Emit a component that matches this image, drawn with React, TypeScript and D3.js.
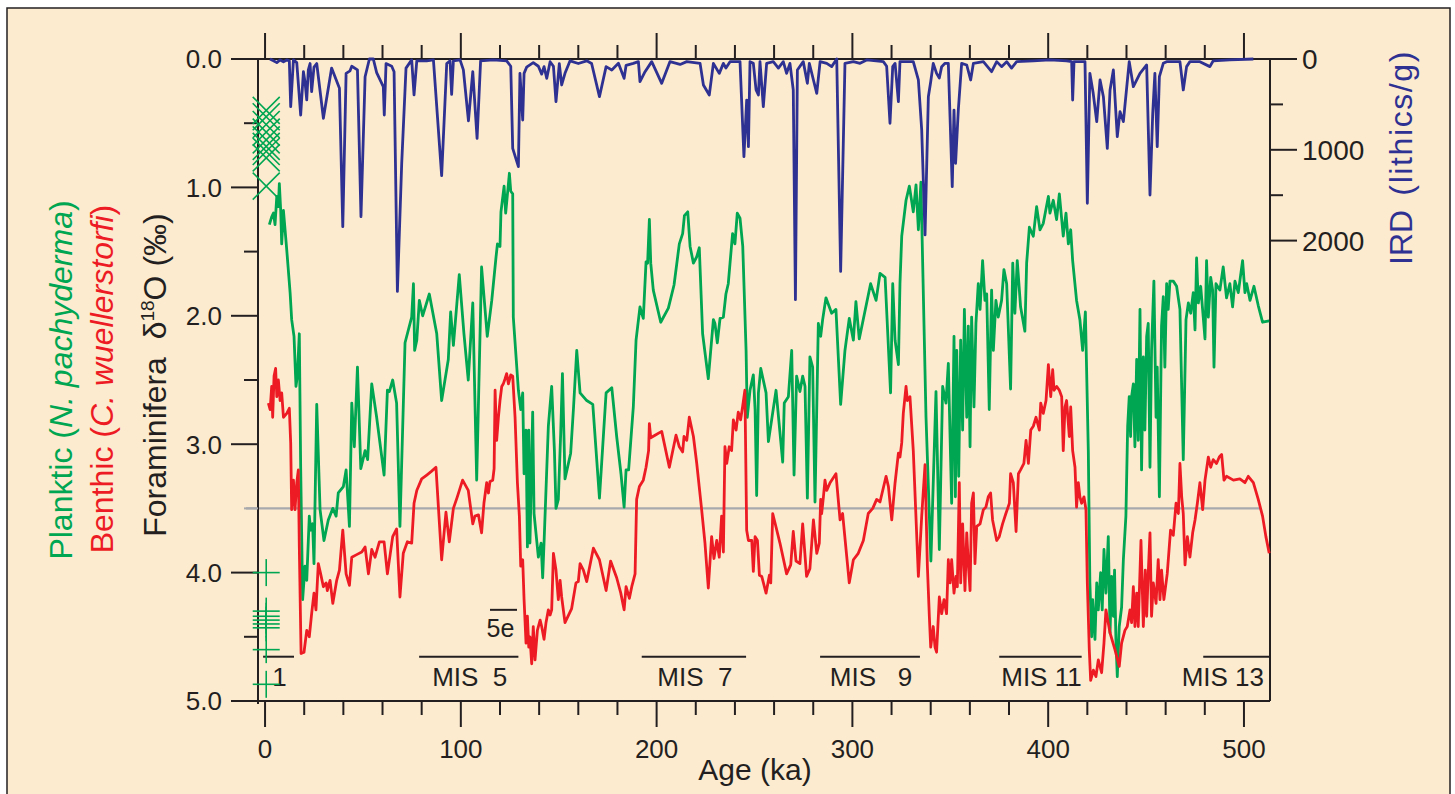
import React, { useEffect, useRef } from 'react';
import * as d3 from 'd3';

// ---- data ----
// IRD flux, [age ka, lithics/g]
const irdSeries: [number, number][] = [
  [2.5, 0], [4.3, 20], [6.0, 40], [7.7, 10], [9.4, 30], [11.1, 10], [12.4, 20], [13.1, 525], [14.5, 10], [16.2, 40],
  [18.2, 617], [19.6, 140], [20.4, 250], [21.3, 451], [22.1, 120], [23.0, 50], [23.8, 360], [25.0, 90], [26.4, 50],
  [29.8, 653], [34.0, 100], [38.0, 323], [39.7, 1847], [41.4, 158], [43.4, 130], [44.3, 80], [47.2, 120], [49.0, 1736],
  [51.1, 195], [53.3, 0], [55.3, 0], [57.0, 150], [60.4, 305], [60.9, 617], [61.8, 50], [64.7, 80], [65.9, 140],
  [67.6, 2560], [69.8, 1150], [72.0, 100], [74.9, 10], [76.1, 396], [77.5, 20], [82.6, 20], [86.0, 10], [90.2, 1285],
  [92.8, 50], [94.5, 20], [95.3, 390], [96.2, 20], [99.6, 10], [101.3, 120], [103.9, 680], [106.1, 140], [108.3, 874],
  [110.1, 20], [116.6, 10], [123.4, 20], [125.5, 80], [126.5, 984], [129.4, 1186], [130.2, 158], [131.6, 672],
  [132.3, 158], [133.6, 90], [137.0, 40], [139.6, 80], [141.3, 167], [142.5, 84], [143.9, 213], [145.6, 30], [147.3, 80],
  [148.6, 470], [150.3, 50], [151.5, 286], [153.2, 158], [155.8, 20], [160.0, 50], [164.3, 20], [166.8, 50], [170.8, 415],
  [174.2, 84], [177.1, 121], [180.5, 48], [183.4, 213], [184.4, 70], [188.1, 48], [190.7, 29], [191.5, 250], [194.1, 140],
  [197.5, 29], [202.6, 268], [206.8, 29], [212.0, 60], [215.4, 29], [222.2, 48], [223.9, 286], [226.9, 396], [229.0, 48],
  [232.0, 158], [234.1, 48], [235.4, 100], [237.5, 29], [242.6, 29], [244.6, 1076], [246.0, 452], [246.9, 966], [247.7, 29],
  [249.4, 48], [250.8, 341], [252.0, 396], [252.8, 29], [254.5, 525], [256.2, 48], [259.6, 29], [262.2, 100], [264.7, 29],
  [266.4, 158], [268.1, 48], [269.8, 341], [270.9, 2650], [271.9, 121], [274.9, 29], [277.0, 268], [278.0, 48], [280.1, 231],
  [281.8, 378], [283.5, 29], [286.9, 48], [289.4, 84], [292.0, 0], [294.0, 2340], [296.2, 48], [300.5, 29], [303.9, 48],
  [307.3, 10], [315.8, 29], [317.5, 80], [319.2, 708], [320.6, 84], [321.8, 48], [323.5, 470], [324.3, 29], [331.1, 29],
  [333.7, 231], [335.4, 782], [337.1, 1938], [338.8, 415], [340.0, 250], [341.3, 48], [343.0, 158], [344.4, 210],
  [345.6, 84], [347.3, 48], [349.0, 48], [351.0, 1406], [351.9, 562], [352.7, 1149], [354.1, 562], [355.8, 48], [358.4, 66],
  [360.4, 231], [361.8, 48], [366.9, 29], [371.1, 140], [373.7, 29], [376.2, 84], [378.8, 29], [381.3, 100], [383.9, 29],
  [392.4, 20], [400.9, 10], [409.4, 20], [412.0, 29], [412.5, 452], [413.2, 29], [418.8, 29], [420.0, 1589], [421.3, 158],
  [423.0, 378], [424.8, 690], [426.5, 231], [428.2, 415], [430.2, 984], [431.6, 341], [433.3, 121], [435.3, 855],
  [436.7, 580], [438.4, 690], [441.4, 29], [443.5, 305], [446.9, 158], [450.3, 66], [452.0, 1498], [453.4, 598],
  [454.5, 158], [455.7, 966], [456.8, 194], [458.8, 48], [460.5, 29], [467.3, 29], [469.0, 341], [470.7, 84], [472.4, 29],
  [477.5, 29], [482.6, 84], [484.3, 20], [492.8, 10], [504.8, 0],
];

// planktic N. pachyderma d18O, [age ka, permil]
const plankticSeries: [number, number][] = [
  [2.2, 1.29], [3.4, 1.23], [4.3, 1.2], [5.1, 1.29], [6.0, 1.07], [6.8, 1.15], [7.3, 0.97], [8.0, 1.18], [8.5, 1.44],
  [9.4, 1.18], [11.1, 1.49], [12.8, 1.82], [13.6, 2.03], [14.8, 2.16], [15.8, 2.55], [16.5, 2.47], [17.5, 2.14], [18.2, 3.18],
  [19.2, 4.21], [20.4, 3.95], [21.3, 4.06], [22.6, 3.56], [23.3, 3.67], [24.3, 3.62], [25.0, 3.93], [26.4, 2.69], [28.1, 3.51],
  [30.1, 3.75], [32.3, 3.59], [34.6, 3.5], [36.3, 3.56], [37.4, 3.38], [40.0, 3.33], [41.4, 3.2], [43.1, 3.64], [44.3, 2.68],
  [45.6, 3.02], [47.2, 2.4], [48.9, 3.19], [51.1, 3.05], [52.4, 3.12], [54.5, 2.53], [57.0, 2.79], [60.8, 3.24], [62.5, 2.58],
  [63.5, 2.59], [65.2, 2.5], [67.2, 2.68], [68.9, 3.64], [71.5, 2.21], [74.9, 2.01], [75.8, 1.75], [76.4, 2.27], [77.5, 2.19],
  [78.8, 1.88], [80.5, 2.0], [83.9, 1.83], [87.7, 2.14], [90.2, 2.66], [93.6, 2.34], [94.8, 1.97], [96.2, 2.23], [99.2, 1.68],
  [101.6, 2.14], [103.8, 2.5], [106.1, 1.9], [108.1, 3.28], [110.6, 1.62], [113.5, 2.16], [115.8, 1.88], [118.0, 1.54],
  [118.7, 1.44], [120.0, 1.46], [120.5, 1.19], [122.1, 0.99], [122.9, 1.2], [123.4, 1.12], [124.8, 0.89], [125.5, 1.03],
  [126.5, 1.05], [126.8, 2.01], [129.4, 2.58], [130.6, 2.73], [131.6, 2.6], [132.3, 3.23], [133.3, 2.89], [134.0, 3.8],
  [134.7, 2.89], [135.3, 3.77], [136.7, 2.75], [137.4, 3.54], [139.6, 3.88], [141.0, 3.77], [141.8, 4.04], [142.5, 3.77],
  [144.7, 2.86], [146.4, 2.55], [147.8, 3.05], [148.6, 3.5], [149.8, 3.43], [151.0, 2.92], [151.9, 2.45], [153.2, 3.27],
  [156.1, 3.07], [157.5, 2.73], [159.2, 2.27], [160.9, 2.6], [164.3, 2.66], [167.4, 2.69], [170.8, 3.42], [174.2, 2.6],
  [177.1, 2.56], [179.6, 2.94], [181.8, 3.23], [183.4, 3.49], [184.4, 3.2], [185.7, 3.2], [188.1, 2.71], [189.5, 2.19],
  [191.5, 1.93], [192.4, 1.98], [193.2, 2.02], [194.6, 1.58], [195.4, 1.59], [196.3, 1.25], [197.0, 1.59], [198.3, 1.8],
  [202.1, 2.05], [206.0, 1.94], [208.9, 1.76], [211.6, 1.44], [213.3, 1.36], [214.2, 1.22], [215.9, 1.19], [217.1, 1.46],
  [218.8, 1.59], [220.5, 1.54], [221.8, 1.47], [223.5, 2.14], [226.4, 2.49], [229.0, 2.03], [229.8, 2.06], [231.0, 2.21],
  [232.4, 2.02], [234.1, 2.01], [235.4, 1.83], [236.6, 1.75], [237.5, 1.59], [238.8, 1.36], [240.0, 1.44], [241.2, 1.2],
  [242.6, 1.24], [244.0, 1.46], [245.7, 2.27], [246.3, 2.79], [247.7, 2.58], [249.4, 2.46], [250.3, 2.73], [251.1, 3.4],
  [252.0, 2.6], [253.2, 2.41], [255.9, 2.6], [257.1, 2.98], [261.0, 2.58], [264.4, 3.14], [265.2, 2.68], [267.3, 2.63],
  [269.0, 2.27], [270.2, 3.24], [271.5, 2.47], [273.2, 2.59], [274.6, 2.47], [275.8, 2.55], [277.0, 3.42], [278.3, 2.32],
  [279.7, 2.4], [280.9, 3.45], [282.6, 2.06], [283.8, 2.16], [284.8, 2.03], [286.5, 1.86], [289.4, 1.98], [291.6, 1.95],
  [294.0, 2.69], [296.2, 2.27], [298.4, 2.02], [300.5, 2.19], [301.8, 1.89], [303.5, 2.18], [309.3, 1.75], [312.1, 1.88],
  [314.1, 1.67], [316.7, 1.7], [319.5, 2.6], [320.6, 1.75], [321.8, 2.19], [323.5, 2.38], [324.3, 1.75], [325.2, 1.38],
  [327.4, 1.1], [329.1, 0.99], [331.1, 1.19], [332.5, 0.98], [333.7, 1.33], [335.0, 0.96], [337.6, 2.79], [340.1, 3.91],
  [342.7, 2.59], [344.4, 3.82], [346.1, 2.55], [347.8, 2.68], [349.0, 2.37], [350.7, 3.46], [351.9, 2.16], [352.6, 3.41],
  [353.3, 2.27], [354.3, 3.25], [355.3, 2.19], [356.3, 2.89], [357.2, 1.95], [358.4, 2.79], [359.2, 2.08], [360.1, 3.02],
  [360.9, 2.01], [362.1, 2.71], [363.1, 2.06], [364.3, 1.75], [365.2, 1.95], [366.5, 1.57], [367.7, 1.88], [368.6, 1.83],
  [369.9, 2.73], [371.1, 1.8], [372.0, 2.27], [373.3, 1.88], [374.5, 2.01], [376.2, 1.88], [377.4, 1.64], [378.8, 1.75],
  [380.8, 2.57], [381.9, 1.59], [383.0, 1.98], [384.2, 1.57], [385.9, 1.93], [388.1, 2.12], [389.0, 1.59], [390.4, 1.31],
  [392.4, 1.38], [394.1, 1.15], [395.8, 1.33], [397.5, 1.28], [400.1, 1.07], [400.9, 1.2], [402.6, 1.1], [404.3, 1.25],
  [405.7, 1.05], [407.7, 1.38], [409.1, 1.2], [410.3, 1.44], [411.5, 1.33], [412.5, 1.57], [414.5, 1.88], [416.2, 2.03],
  [417.6, 2.27], [419.0, 1.97], [419.6, 2.4], [420.5, 3.05], [421.3, 4.08], [422.2, 4.5], [422.7, 4.21], [423.9, 4.52],
  [424.8, 4.08], [425.6, 4.29], [426.8, 4.0], [427.6, 4.29], [428.5, 3.82], [429.5, 4.16], [430.7, 3.72], [431.6, 4.47],
  [432.4, 4.03], [433.3, 4.34], [433.9, 3.98], [434.6, 4.52], [435.3, 4.81], [436.3, 4.42], [437.5, 4.27], [438.4, 3.9],
  [439.7, 3.56], [440.6, 2.86], [441.4, 2.63], [442.1, 2.94], [442.6, 2.63], [443.5, 2.53], [444.3, 3.02], [445.2, 2.34],
  [446.0, 2.97], [446.9, 1.95], [447.7, 3.2], [448.6, 2.32], [449.4, 2.89], [450.3, 2.16], [451.1, 2.06], [452.0, 3.18],
  [452.8, 2.27], [454.0, 1.73], [455.1, 2.79], [455.7, 2.4], [456.8, 3.41], [457.9, 2.08], [458.8, 1.85], [459.6, 2.4],
  [460.5, 1.75], [461.3, 1.95], [462.2, 1.73], [463.9, 1.73], [465.6, 1.77], [467.3, 1.95], [469.0, 3.12], [470.4, 2.03],
  [471.6, 1.9], [472.8, 1.98], [474.1, 1.82], [475.0, 2.11], [475.8, 1.55], [476.7, 1.9], [477.9, 1.77], [479.2, 2.01],
  [480.1, 2.18], [480.9, 1.57], [481.8, 2.01], [483.0, 1.7], [484.0, 1.8], [484.7, 2.4], [485.7, 1.75], [487.7, 1.8],
  [489.4, 1.62], [491.1, 1.86], [492.8, 1.75], [494.2, 1.93], [495.4, 1.73], [497.1, 1.82], [499.3, 1.57], [500.5, 1.82],
  [501.4, 1.75], [503.1, 1.88], [505.1, 1.77], [507.3, 1.92], [509.5, 2.05], [512.9, 2.04],
];

// benthic C. wuellerstorfi d18O, [age ka, permil]
const benthicSeries: [number, number][] = [
  [1.7, 2.68], [2.6, 2.73], [3.4, 2.55], [3.9, 2.79], [4.6, 2.47], [5.4, 2.41], [6.0, 2.63], [6.8, 2.5], [7.7, 2.66],
  [8.5, 2.6], [9.4, 2.79], [11.1, 2.76], [12.4, 2.72], [13.1, 2.99], [13.6, 3.51], [14.5, 3.28], [15.3, 3.51], [16.2, 3.3],
  [17.0, 3.2], [17.5, 3.8], [18.4, 4.63], [19.9, 4.62], [21.3, 4.45], [22.6, 4.5], [23.8, 4.32], [25.0, 4.16], [26.0, 4.29],
  [27.2, 3.93], [28.4, 4.01], [29.8, 4.11], [31.2, 4.08], [31.8, 4.14], [33.2, 4.06], [34.6, 4.24], [36.6, 4.06], [38.0, 3.98],
  [39.7, 3.67], [41.4, 4.01], [43.1, 4.1], [44.3, 3.88], [46.8, 3.86], [49.4, 3.84], [51.1, 3.8], [52.8, 4.01], [54.5, 3.82],
  [56.2, 3.88], [58.4, 3.76], [60.8, 3.76], [62.5, 4.01], [65.2, 3.72], [67.2, 3.66], [68.9, 4.19], [70.6, 3.85], [72.7, 3.76],
  [74.9, 3.77], [76.1, 3.46], [77.5, 3.36], [80.0, 3.27], [82.6, 3.24], [85.1, 3.21], [87.3, 3.18], [90.2, 3.9], [92.4, 3.53],
  [94.1, 3.76], [96.2, 3.5], [98.2, 3.41], [100.9, 3.28], [103.8, 3.36], [106.1, 3.62], [107.2, 3.56], [109.0, 3.55],
  [110.6, 3.69], [111.8, 3.46], [113.2, 3.3], [114.1, 3.38], [114.9, 3.29], [116.3, 3.28], [117.0, 3.19], [117.5, 2.58],
  [118.3, 2.97], [119.2, 2.79], [120.0, 2.66], [120.9, 2.55], [121.7, 2.53], [122.6, 2.49], [123.4, 2.45], [124.3, 2.53],
  [125.5, 2.46], [126.5, 2.47], [127.7, 2.79], [128.9, 3.3], [129.9, 3.56], [130.6, 3.95], [131.6, 3.9], [132.3, 4.21],
  [133.3, 4.55], [134.0, 4.34], [134.7, 4.58], [135.3, 4.5], [136.2, 4.71], [137.0, 4.42], [137.9, 4.68], [139.1, 4.45],
  [140.5, 4.37], [141.3, 4.42], [142.5, 4.52], [143.5, 4.39], [144.7, 4.29], [145.6, 4.33], [146.4, 4.29], [147.3, 3.85],
  [148.6, 3.98], [149.8, 4.21], [150.7, 4.06], [151.5, 4.19], [153.2, 4.39], [156.6, 4.28], [158.8, 4.08], [160.0, 4.07],
  [160.9, 3.93], [162.6, 3.98], [164.3, 4.07], [167.7, 3.81], [170.8, 3.9], [174.2, 4.14], [176.5, 3.91], [179.6, 4.04],
  [181.7, 4.16], [183.4, 4.29], [184.4, 4.11], [186.1, 4.2], [187.3, 4.11], [189.0, 4.01], [189.8, 3.43], [191.2, 3.33],
  [193.2, 3.28], [194.6, 3.18], [195.9, 3.05], [196.3, 2.84], [197.0, 2.95], [199.2, 2.93], [202.6, 2.9], [206.5, 3.18],
  [209.9, 2.93], [211.6, 3.02], [213.3, 3.06], [214.0, 2.94], [215.4, 2.97], [216.7, 2.79], [218.8, 2.94], [220.5, 3.15],
  [223.0, 3.51], [224.7, 3.77], [226.4, 4.12], [228.1, 3.72], [229.3, 3.89], [230.7, 3.75], [232.0, 3.88], [233.2, 3.56],
  [234.1, 3.84], [234.9, 3.02], [235.8, 3.15], [237.1, 3.02], [238.3, 3.05], [239.2, 2.81], [240.6, 2.89], [241.7, 2.75],
  [242.9, 2.81], [243.9, 2.71], [245.1, 2.58], [246.0, 3.67], [246.9, 3.75], [248.6, 3.75], [249.4, 3.99], [250.3, 3.72],
  [251.5, 3.75], [252.5, 4.02], [253.7, 4.03], [255.9, 4.16], [257.6, 4.02], [258.3, 4.08], [259.3, 3.54], [263.0, 3.77],
  [266.4, 4.01], [268.5, 3.94], [269.8, 3.68], [271.2, 3.91], [273.2, 3.93], [274.6, 3.62], [276.6, 4.03], [278.3, 3.97],
  [280.1, 3.59], [281.8, 3.85], [283.1, 3.77], [283.8, 3.43], [284.3, 3.54], [285.2, 3.41], [286.0, 3.28], [286.9, 3.36],
  [288.6, 3.3], [291.6, 3.23], [293.7, 3.59], [295.0, 3.54], [298.4, 4.08], [300.5, 3.9], [303.0, 3.85], [305.6, 3.75],
  [308.1, 3.54], [310.4, 3.5], [312.4, 3.43], [314.1, 3.45], [317.2, 3.25], [318.4, 3.33], [320.1, 3.59], [321.8, 3.3],
  [323.5, 3.07], [324.3, 3.1], [325.2, 2.99], [326.0, 2.76], [327.4, 2.55], [328.1, 2.66], [329.4, 2.63], [331.1, 3.05],
  [333.7, 4.03], [335.4, 3.56], [337.1, 3.16], [338.3, 3.95], [339.3, 4.34], [340.0, 4.58], [341.3, 4.42], [342.2, 4.58],
  [343.0, 4.62], [344.4, 4.19], [345.6, 4.32], [346.8, 4.21], [348.1, 4.32], [349.0, 3.9], [349.9, 4.08], [350.7, 3.9],
  [351.9, 4.16], [352.9, 4.03], [353.6, 4.11], [354.6, 3.3], [355.3, 4.08], [356.3, 3.62], [357.5, 4.14], [358.4, 3.69],
  [359.2, 3.93], [360.1, 4.14], [360.9, 3.46], [361.8, 3.38], [362.6, 3.93], [363.5, 3.64], [365.2, 3.62], [366.9, 3.51],
  [368.2, 3.49], [369.4, 3.41], [370.6, 3.38], [371.6, 3.59], [373.7, 3.75], [375.0, 3.72], [376.7, 3.62], [378.4, 3.54],
  [380.2, 3.46], [380.8, 3.23], [382.2, 3.3], [383.6, 3.68], [384.8, 3.23], [385.9, 3.2], [387.6, 3.15], [388.7, 2.97],
  [389.9, 3.15], [391.1, 2.89], [392.4, 2.86], [393.8, 2.79], [395.5, 2.89], [396.2, 2.68], [397.5, 2.76], [398.9, 2.66],
  [400.1, 2.38], [401.3, 2.63], [402.3, 2.42], [403.0, 2.58], [404.3, 2.55], [405.7, 2.58], [406.9, 2.63], [407.7, 3.05],
  [408.6, 2.71], [409.4, 2.66], [410.8, 2.94], [411.5, 2.71], [412.5, 3.05], [413.7, 3.18], [414.5, 3.49], [415.4, 3.3],
  [416.2, 3.41], [417.1, 3.46], [418.3, 3.41], [419.3, 3.51], [420.0, 4.08], [421.0, 4.6], [421.7, 4.84], [423.1, 4.76],
  [424.4, 4.81], [425.6, 4.68], [427.3, 4.78], [428.5, 4.55], [429.5, 4.29], [431.6, 4.47], [434.1, 4.6], [436.3, 4.73],
  [437.5, 4.55], [439.2, 4.45], [440.4, 4.42], [441.8, 4.29], [442.6, 4.39], [443.5, 4.11], [444.3, 4.42], [445.2, 4.16],
  [446.0, 4.42], [447.4, 3.75], [448.6, 4.42], [449.6, 3.98], [450.3, 4.34], [451.1, 4.01], [452.0, 3.69], [452.8, 4.34],
  [453.7, 4.08], [455.1, 4.24], [456.2, 3.9], [457.1, 4.21], [457.9, 3.98], [459.1, 4.21], [460.8, 4.01], [462.5, 3.67],
  [463.9, 3.71], [465.3, 3.46], [466.5, 3.54], [467.3, 3.15], [468.2, 3.41], [469.0, 3.54], [469.9, 3.94], [471.1, 3.72],
  [472.4, 3.88], [473.8, 3.69], [475.0, 3.59], [476.2, 3.46], [477.5, 3.3], [478.9, 3.51], [480.1, 3.28], [481.8, 3.1],
  [483.0, 3.18], [484.3, 3.12], [486.0, 3.15], [487.4, 3.1], [488.6, 3.08], [489.8, 3.28], [491.1, 3.25], [494.6, 3.28],
  [497.9, 3.27], [500.5, 3.3], [502.2, 3.25], [504.8, 3.3], [507.3, 3.43], [509.5, 3.56], [511.2, 3.72], [512.9, 3.85],
];

// core-top markers at age ~0 (planktic X, planktic +)
const xMarkerValues = [0.4, 0.45, 0.51, 0.57, 0.63, 0.68, 0.72, 0.77, 0.99];
const plusMarkerValues = [4.0, 4.3, 4.34, 4.37, 4.4, 4.43, 4.6, 4.87];
const markerAge = 0.6;

// marine isotope stages
const misLabels = ['1', 'MIS\u00a0\u00a05', 'MIS\u00a0\u00a07', 'MIS\u00a0\u00a0\u00a09', 'MIS 11', 'MIS 13'];
const misStart = [-1, 78.7, 192.4, 283.5, 375, 479.2];
const misEnd = [14.8, 129.4, 245.7, 334.5, 417.1, 513.3];
const subStageLabel = '5e';
const subStageRange = [114.9, 128.7];

const ageTicks = d3.range(0, 501, 20);
const ageLabels = [0, 100, 200, 300, 400, 500];
const d18oTicks = d3.range(0, 5.01, 0.5);
const d18oLabels = ['0.0', '1.0', '2.0', '3.0', '4.0', '5.0'];
const irdTicks = [0, 500, 1000, 1500, 2000];
const irdLabels = [0, 1000, 2000];
const refLevel = 3.5;

const BG = '#FDEBD0';
const INK = '#231F20';
const GREEN = '#00A651';
const RED = '#ED1C24';
const BLUE = '#2E3192';
const FONT = '"Liberation Sans", Arial, Helvetica, sans-serif';

export default function App() {
  const ref = useRef<SVGSVGElement>(null);

  useEffect(() => {
    const svg = d3.select(ref.current);
    svg.selectAll('*').remove();

    const x = d3.scaleLinear().domain([-3.6, 513.3]).range([258, 1270]);
    const y = d3.scaleLinear().domain([0, 5]).range([59, 701]);
    const yIrd = d3.scaleLinear().domain([0, 2000]).range([59, 240.6]);
    const [left, right] = x.range();
    const [top, bottom] = y.range();

    svg.append('rect').attr('x', 7).attr('y', 8).attr('width', 1443).attr('height', 800)
      .attr('fill', BG).attr('stroke', INK).attr('stroke-width', 1.5);

    const g = svg.append('g').attr('font-family', FONT).attr('fill', INK);

    // reference line
    g.append('line')
      .attr('x1', x(-9.7)).attr('x2', x(508.6))
      .attr('y1', y(refLevel)).attr('y2', y(refLevel))
      .attr('stroke', '#A7A9AC').attr('stroke-width', 2.2);

    // frame
    const frame = g.append('g').attr('stroke', INK).attr('stroke-width', 2);
    frame.append('line').attr('x1', left).attr('x2', left).attr('y1', top).attr('y2', bottom + 3);
    frame.append('line').attr('x1', right).attr('x2', right).attr('y1', top).attr('y2', bottom);
    frame.append('line').attr('x1', left).attr('x2', right).attr('y1', top).attr('y2', top);
    frame.append('line').attr('x1', left).attr('x2', right).attr('y1', bottom).attr('y2', bottom);

    // age ticks top and bottom
    ageTicks.forEach(a => {
      const major = a % 100 === 0;
      frame.append('line').attr('x1', x(a)).attr('x2', x(a)).attr('y1', top).attr('y2', top - (major ? 26 : 14));
      frame.append('line').attr('x1', x(a)).attr('x2', x(a)).attr('y1', bottom).attr('y2', bottom + (major ? 26 : 14));
    });
    ageLabels.forEach(a => {
      g.append('text').attr('x', x(a)).attr('y', 758).attr('text-anchor', 'middle')
        .attr('font-size', 26).text(a);
    });
    g.append('text').attr('x', 755).attr('y', 780).attr('text-anchor', 'middle')
      .attr('font-size', 30).text('Age (ka)');

    // d18O ticks
    d18oTicks.forEach(v => {
      const major = Math.abs(v - Math.round(v)) < 1e-6;
      frame.append('line').attr('x1', left).attr('x2', left - (major ? 27 : 14))
        .attr('y1', y(v)).attr('y2', y(v))
        .attr('stroke', v === refLevel ? '#A7A9AC' : INK);
    });
    d18oLabels.forEach((t, i) => {
      g.append('text').attr('x', 222).attr('y', y(i)).attr('dy', '0.36em')
        .attr('text-anchor', 'end').attr('font-size', 26).text(t);
    });

    // IRD ticks
    irdTicks.forEach(v => {
      const major = v % 1000 === 0;
      frame.append('line').attr('x1', right).attr('x2', right + (major ? 27 : 13))
        .attr('y1', yIrd(v)).attr('y2', yIrd(v));
    });
    irdLabels.forEach(v => {
      g.append('text').attr('x', 1302).attr('y', yIrd(v)).attr('dy', '0.36em')
        .attr('font-size', 28).text(v);
    });

    // axis titles (rotated)
    const plank = g.append('text').attr('transform', 'translate(72,380) rotate(-90)')
      .attr('text-anchor', 'middle').attr('font-size', 32).attr('fill', GREEN);
    plank.append('tspan').text('Planktic (');
    plank.append('tspan').attr('font-style', 'italic').text('N. pachyderma');
    plank.append('tspan').text(')');

    const benth = g.append('text').attr('transform', 'translate(113,379) rotate(-90)')
      .attr('text-anchor', 'middle').attr('font-size', 32).attr('fill', RED);
    benth.append('tspan').text('Benthic (');
    benth.append('tspan').attr('font-style', 'italic').text('C. wuellerstorfi');
    benth.append('tspan').text(')');

    const fora = g.append('text').attr('transform', 'translate(166,375) rotate(-90)')
      .attr('text-anchor', 'middle').attr('font-size', 32).attr('fill', INK);
    fora.append('tspan').text('Foraminifera\u00a0\u00a0\u03b4');
    fora.append('tspan').attr('font-size', 19).attr('dy', -12).text('18');
    fora.append('tspan').attr('dy', 12).text('O (\u2030)');

    g.append('text').attr('transform', 'translate(1412,265) rotate(-90)')
      .attr('font-size', 32).attr('fill', BLUE).text('IRD');
    g.append('text').attr('transform', 'translate(1412,50) rotate(-90)')
      .attr('text-anchor', 'end').attr('font-size', 32).attr('letter-spacing', 1.6)
      .attr('fill', BLUE).text('(lithics/g)');

    // MIS bars
    misLabels.forEach((lab, i) => {
      const x0 = x(misStart[i]);
      const x1 = x(misEnd[i]);
      frame.append('line').attr('x1', x0).attr('x2', x1).attr('y1', y(4.655)).attr('y2', y(4.655));
      const last = i === misLabels.length - 1;
      g.append('text')
        .attr('x', last ? x1 - 6 : (x0 + x1) / 2 + 1)
        .attr('y', 686).attr('text-anchor', last ? 'end' : 'middle')
        .attr('font-size', 26).text(lab);
    });
    frame.append('line').attr('x1', x(subStageRange[0])).attr('x2', x(subStageRange[1]))
      .attr('y1', y(4.29)).attr('y2', y(4.29));
    g.append('text').attr('x', (x(subStageRange[0]) + x(subStageRange[1])) / 2 - 3)
      .attr('y', 637).attr('text-anchor', 'middle').attr('font-size', 25).text(subStageLabel);

    // core-top markers
    const mk = g.append('g').attr('stroke', GREEN).attr('stroke-width', 1.6);
    const s = 13.5;
    xMarkerValues.forEach(v => {
      const cx = x(markerAge), cy = y(v);
      mk.append('line').attr('x1', cx - s).attr('x2', cx + s).attr('y1', cy - s).attr('y2', cy + s);
      mk.append('line').attr('x1', cx - s).attr('x2', cx + s).attr('y1', cy + s).attr('y2', cy - s);
    });
    plusMarkerValues.forEach(v => {
      const cx = x(markerAge), cy = y(v);
      mk.append('line').attr('x1', cx - s).attr('x2', cx + s).attr('y1', cy).attr('y2', cy);
      mk.append('line').attr('x1', cx).attr('x2', cx).attr('y1', cy - s).attr('y2', cy + s);
    });

    // series
    const isoLine = d3.line<[number, number]>().x(d => x(d[0])).y(d => y(d[1]));
    const irdLine = d3.line<[number, number]>().x(d => x(d[0])).y(d => yIrd(d[1]));

    g.append('path').attr('d', isoLine(plankticSeries)).attr('fill', 'none')
      .attr('stroke', GREEN).attr('stroke-width', 2.8).attr('stroke-linejoin', 'round');
    g.append('path').attr('d', isoLine(benthicSeries)).attr('fill', 'none')
      .attr('stroke', RED).attr('stroke-width', 2.8).attr('stroke-linejoin', 'round');
    g.append('path').attr('d', irdLine(irdSeries)).attr('fill', 'none')
      .attr('stroke', BLUE).attr('stroke-width', 2.8).attr('stroke-linejoin', 'round');
  }, []);

  return (
    <svg ref={ref} width={1455} height={794}
      style={{ position: 'absolute', left: 0, top: 0, background: '#fff' }} />
  );
}
